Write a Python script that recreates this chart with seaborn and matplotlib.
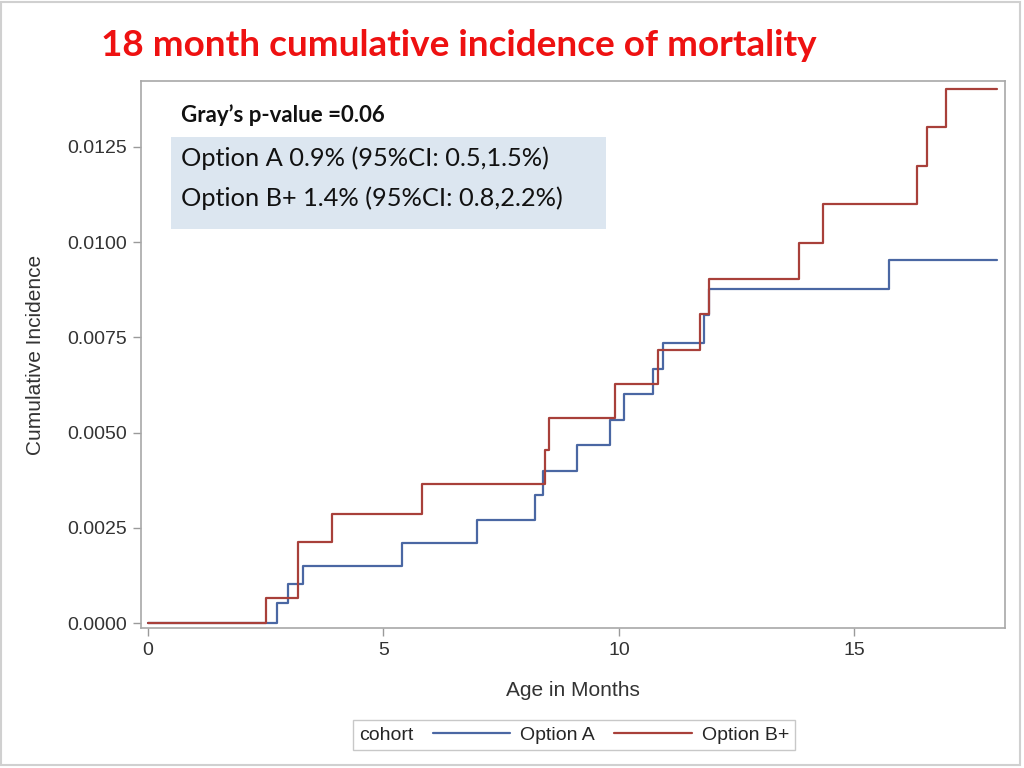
import numpy as np
import pandas as pd
import matplotlib
matplotlib.use("Agg")
import matplotlib.pyplot as plt
import seaborn as sns
from matplotlib.patches import Rectangle
from matplotlib.lines import Line2D

# ---- data ----
time_a = [0.0, 2.74, 2.98, 3.29, 5.40, 6.99, 8.22, 8.39, 9.10, 9.82, 10.11, 10.73, 10.93, 11.81, 11.92, 15.73, 18.03]
ci_a = [0.0, 0.00052, 0.00102, 0.00151, 0.00210, 0.00270, 0.00336, 0.00400, 0.00467, 0.00533, 0.00600, 0.00668, 0.00736, 0.00808, 0.00877, 0.00953, 0.00953]
time_b = [0.0, 2.51, 3.19, 3.91, 5.81, 8.43, 8.52, 9.91, 10.84, 11.72, 11.92, 13.82, 14.34, 16.33, 16.54, 16.95, 18.03]
ci_b = [0.0, 0.00067, 0.00214, 0.00285, 0.00365, 0.00454, 0.00537, 0.00627, 0.00718, 0.00811, 0.00903, 0.00999, 0.01100, 0.01200, 0.01302, 0.01403, 0.01403]
cohorts = ["Option A", "Option B+"]
colors = ["#4a67a3", "#a8403a"]
x_ticks = [0, 5, 10, 15]
y_ticks = [0.0, 0.0025, 0.0050, 0.0075, 0.0100, 0.0125]

title = "18 month cumulative incidence of mortality"
pval_text = "Gray\u2019s p-value =0.06"
ci_lines = ["Option A 0.9% (95%CI: 0.5,1.5%)", "Option B+ 1.4% (95%CI: 0.8,2.2%)"]

df = pd.concat([
    pd.DataFrame({"time": time_a, "ci": ci_a, "cohort": cohorts[0]}),
    pd.DataFrame({"time": time_b, "ci": ci_b, "cohort": cohorts[1]}),
])

sns.set_theme(style="white")
plt.rcParams["font.family"] = ["Liberation Sans", "DejaVu Sans"]

fig = plt.figure(figsize=(10.24, 7.68), dpi=100)
ax = fig.add_axes([141/1024, 1 - 628/768, (1005 - 141)/1024, (628 - 81)/768])

sns.lineplot(data=df, x="time", y="ci", hue="cohort", palette=colors,
             drawstyle="steps-post", estimator=None, sort=False,
             linewidth=1.6, legend=False, ax=ax)

ax.set_xlim(-0.15, 18.2)
ax.set_ylim(-0.00013, 0.01423)
ax.set_xticks(x_ticks)
ax.set_xticklabels([str(t) for t in x_ticks])
ax.set_yticks(y_ticks)
ax.set_yticklabels([f"{v:.4f}" for v in y_ticks])
ax.tick_params(axis="both", direction="out", length=6, width=1, color="#9a9a9a",
               labelsize=14, labelcolor="#333333", pad=4, left=True, bottom=True)
for s in ax.spines.values():
    s.set_color("#a8a8a8")
    s.set_linewidth(1.2)
ax.set_xlabel("Age in Months", fontsize=15, color="#333333", labelpad=16)
ax.set_ylabel("Cumulative Incidence", fontsize=15, color="#333333", labelpad=16)

# legend with inline title
handles = [Line2D([], [], color=c, lw=1.6) for c in colors]
leg = ax.legend(handles, cohorts, title="cohort", ncol=2, loc="center",
                bbox_to_anchor=(574/1024, 1 - 735/768), bbox_transform=fig.transFigure,
                frameon=True, fancybox=False, fontsize=14, title_fontsize=14,
                handlelength=4.0, handletextpad=0.5, columnspacing=0.8,
                borderpad=0.3, edgecolor="#bbbbbb")
leg.get_frame().set_linewidth(1.0)
c = leg.get_children()[0]
t_box = c.get_children()[0]
h_box = c.get_children()[1]
c._children = [h_box]
h_box._children = [t_box] + h_box.get_children()
h_box.sep = 14

# title
fig.text(459/1024, 1 - 45/768, title, ha="center", va="center", color="#ee1111",
         fontsize=26.6, fontweight="bold", family=["Lato", "DejaVu Sans"])

# annotation box
fig.patches.append(Rectangle((171/1024, 1 - 229/768), (606 - 171)/1024, (229 - 137)/768,
                             transform=fig.transFigure, facecolor="#dce6f0",
                             edgecolor="none", zorder=3))
fig.text(181/1024, 1 - 115/768, pval_text, ha="left", va="center", color="#111111",
         fontsize=16, fontweight="bold", family=["Lato", "DejaVu Sans"], zorder=4)
fig.text(181/1024, 1 - 158/768, ci_lines[0], ha="left", va="center", color="#111111",
         fontsize=18.3, family=["Lato", "DejaVu Sans"], zorder=4)
fig.text(181/1024, 1 - 198/768, ci_lines[1], ha="left", va="center", color="#111111",
         fontsize=18.3, family=["Lato", "DejaVu Sans"], zorder=4)

# outer slide border
fig.patches.append(Rectangle((1/1024, 3/768), 1019/1024, 763/768, transform=fig.transFigure,
                             facecolor="none", edgecolor="#d0d0d0", linewidth=1.5, zorder=5))

fig.savefig("out.png", dpi=100)
